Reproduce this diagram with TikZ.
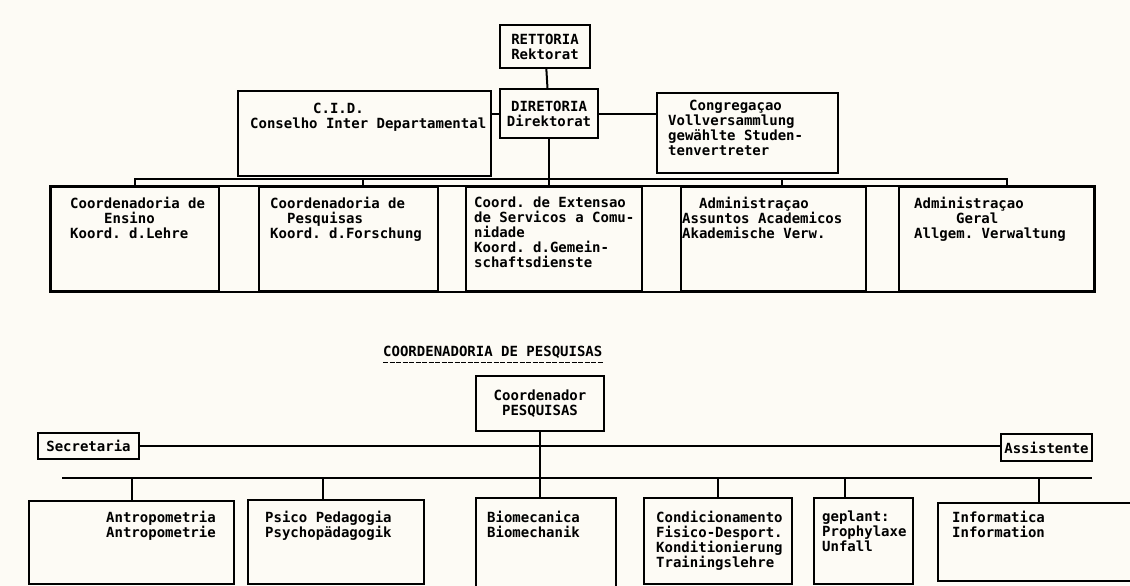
\documentclass[tikz,border=0pt]{standalone}
\usepackage{fontspec}
\setmonofont{DejaVu Sans Mono}
\usetikzlibrary{positioning,calc}
\definecolor{paper}{RGB}{253,251,245}
\newcommand{\tw}{\fontsize{14}{15}\selectfont\ttfamily\bfseries}

\begin{document}
\begin{tikzpicture}[x=1pt, y=-1pt,
  box/.style={draw, line width=2pt, inner sep=0pt, anchor=north west, font=\tw, align=center},
  txt/.style={anchor=north west, inner sep=0pt, align=left, font=\tw},
  link/.style={line width=2pt}]

\fill[paper] (0,0) rectangle (1130,586);
\useasboundingbox (0,0) rectangle (1130,586);

\node at (499,24) [box, minimum width=90pt, minimum height=43pt] (rekt) {RETTORIA\\Rektorat};
\node at (499,88) [box, minimum width=98pt, minimum height=49pt] (dir) {DIRETORIA\\Direktorat};
\node at (237,90) [box, minimum width=253pt, minimum height=85pt] (cid) {};
\node at (656,92) [box, minimum width=181pt, minimum height=80pt] (cong) {};

\node at (250,103) [txt] (cidT) {\hspace*{63pt}C.I.D.\\Conselho Inter Departamental};
\node at (668,100) [txt] (congT) {\hspace*{21pt}Congregaçao\\Vollversammlung\\gewählte Studen-\\tenvertreter};

\node at (50,186) [box, minimum width=168pt, minimum height=104pt] (ens) {};
\node at (258,186) [box, minimum width=179pt, minimum height=104pt] (pes) {};
\node at (465,186) [box, minimum width=176pt, minimum height=104pt] (ext) {};
\node at (680,186) [box, minimum width=185pt, minimum height=104pt] (aca) {};
\node at (898,186) [box, minimum width=195pt, minimum height=104pt] (ger) {};
\draw[link] (ens.north west) rectangle (ger.south east);

\node at (70,197) [txt] (ensT) {Coordenadoria de\\\hspace*{34pt}Ensino\\Koord. d.Lehre};
\node at (270,197) [txt] (pesT) {Coordenadoria de\\\hspace*{17pt}Pesquisas\\Koord. d.Forschung};
\node at (474,197) [txt] (extT) {Coord. de Extensao\\de Servicos a Comu-\\nidade\\Koord. d.Gemein-\\schaftsdienste};
\node at (682,197) [txt] (acaT) {\hspace*{17pt}Administraçao\\Assuntos Academicos\\Akademische Verw.};
\node at (914,197) [txt] (gerT) {Administraçao\\\hspace*{42pt}Geral\\Allgem. Verwaltung};

\coordinate (bus) at (0,179);
\draw[link] (rekt) -- (dir);
\draw[link] (dir.west) -- (dir.west -| cid.east);
\draw[link] (dir.east) -- (dir.east -| cong.west);
\draw[link] (dir.south) -- (dir.south |- ext.north);
\draw[link] (ens.north) -- (ens.north |- bus) -| ([xshift=10pt]ger.north);
\draw[link] ([xshift=14pt]pes.north) -- ([xshift=14pt]pes.north |- bus);
\draw[link] ([xshift=8pt]aca.north) -- ([xshift=8pt]aca.north |- bus);

\node at (383,346) [txt] (ttl) {COORDENADORIA DE PESQUISAS};
\draw[line width=1.4pt, dash pattern=on 5pt off 1.5pt] ([yshift=-4pt]ttl.south west) -- ([yshift=-4pt]ttl.south east);

\node at (475,375) [box, minimum width=128pt, minimum height=55pt] (crd) {Coordenador\\PESQUISAS};
\node at (37,432) [box, minimum width=101pt, minimum height=26pt] (sec) {Secretaria};
\node at (1000,433) [box, minimum width=91pt, minimum height=27pt] (ass) {Assistente};

\node at (28,500) [box, minimum width=205pt, minimum height=83pt] (ant) {};
\node at (247,499) [box, minimum width=176pt, minimum height=84pt] (psi) {};
\node at (475,497) [box, minimum width=140pt, minimum height=89pt] (bio) {};
\node at (643,497) [box, minimum width=148pt, minimum height=86pt] (con) {};
\node at (813,497) [box, minimum width=99pt, minimum height=86pt] (gep) {};
\node at (937,502) [box, minimum width=203pt, minimum height=78pt] (inf) {};

\node at (106,511) [txt] (antT) {Antropometria\\Antropometrie};
\node at (265,511) [txt] (psiT) {Psico Pedagogia\\Psychopädagogik};
\node at (487,511) [txt] (bioT) {Biomecanica\\Biomechanik};
\node at (656,511) [txt] (conT) {Condicionamento\\Fisico-Desport.\\Konditionierung\\Trainingslehre};
\node at (822,511) [txt] (gepT) {geplant:\\Prophylaxe\\Unfall};
\node at (952,511) [txt] (infT) {Informatica\\Information};

\coordinate (b2w) at (62,478);
\coordinate (b2e) at (1092,478);
\draw[link] (sec.east) -- (sec.east -| ass.west);
\draw[link] (b2w) -- (b2e);
\draw[link] (crd.south) -- (crd.south |- bio.north);
\draw[link] (ant.north) -- (ant.north |- b2w);
\draw[link] ([xshift=-13pt]psi.north) -- ([xshift=-13pt]psi.north |- b2w);
\draw[link] (con.north) -- (con.north |- b2w);
\draw[link] ([xshift=-19pt]gep.north) -- ([xshift=-19pt]gep.north |- b2w);
\draw[link] ([xshift=-1pt]inf.north) -- ([xshift=-1pt]inf.north |- b2w);

\end{tikzpicture}
\end{document}
